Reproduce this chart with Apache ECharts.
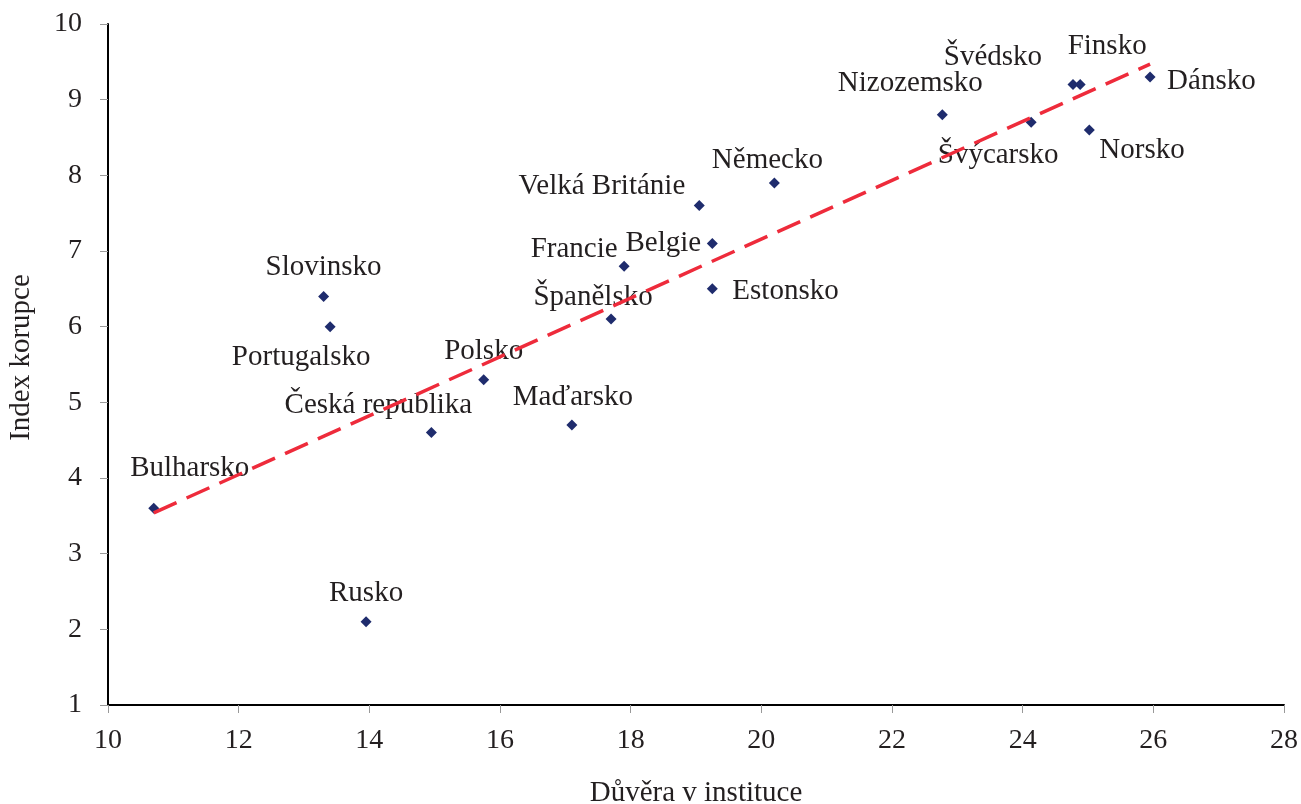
<!DOCTYPE html>
<html>
<head>
<meta charset="utf-8">
<title>Důvěra v instituce a index korupce</title>
<script src="https://cdn.jsdelivr.net/npm/echarts@6/dist/echarts.min.js"></script>
<style>
  html, body { margin: 0; padding: 0; background: #ffffff; }
  #chart { width: 1301px; height: 804px; }
</style>
</head>
<body>
<div id="chart"></div>
<script>
// Countries, trust in institutions (x) and corruption index (y)
const countries = ['Bulharsko', 'Slovinsko', 'Portugalsko', 'Česká republika', 'Polsko', 'Rusko',
  'Maďarsko', 'Španělsko', 'Francie', 'Belgie', 'Estonsko', 'Velká Británie', 'Německo',
  'Nizozemsko', 'Švýcarsko', 'Švédsko', 'Finsko', 'Dánsko', 'Norsko'];
const trustValues = [10.7, 13.3, 13.4, 14.95, 15.75, 13.95,
  17.1, 17.7, 17.9, 19.25, 19.25, 19.05, 20.2,
  22.77, 24.13, 24.77, 24.88, 25.95, 25.02];
const corruptionValues = [3.6, 6.4, 6.0, 4.6, 5.3, 2.1,
  4.7, 6.1, 6.8, 7.1, 6.5, 7.6, 7.9,
  8.8, 8.7, 9.2, 9.2, 9.3, 8.6];

// Linear trend line end points
const trendX = [10.7, 25.95];
const trendY = [3.54, 9.47];

// Axis ranges
const xTicks = { min: 10, max: 28, interval: 2 };
const yTicks = { min: 1, max: 10, interval: 1 };

// Label placement per country: [dx, dy] from the marker, and alignment
const labelPlace = {
  'Bulharsko': [36, -40, 'center'],
  'Slovinsko': [0, -29, 'center'],
  'Portugalsko': [-29, 31, 'center'],
  'Česká republika': [-53, -27, 'center'],
  'Polsko': [0, -28, 'center'],
  'Rusko': [0, -28, 'center'],
  'Maďarsko': [1, -28, 'center'],
  'Španělsko': [-18, -22, 'center'],
  'Francie': [-50, -17, 'center'],
  'Belgie': [-49, 0, 'center'],
  'Estonsko': [20, 3, 'left'],
  'Velká Británie': [-14, -19, 'right'],
  'Německo': [-7, -23, 'center'],
  'Nizozemsko': [-32, -31, 'center'],
  'Švýcarsko': [-33, 33, 'center'],
  'Švédsko': [-80, -27, 'center'],
  'Finsko': [27, -38, 'center'],
  'Dánsko': [17, 4, 'left'],
  'Norsko': [10, 20, 'left']
};

const FONT = '"Liberation Serif", "Times New Roman", serif';

const points = countries.map((name, i) => ({
  name: name,
  value: [trustValues[i], corruptionValues[i]]
}));

const trendData = trendX.map((x, i) => [x, trendY[i]]);

const chart = echarts.init(document.getElementById('chart'), null, { renderer: 'canvas' });

chart.setOption({
  backgroundColor: '#ffffff',
  animation: false,
  grid: { left: 108, right: 17, top: 24, bottom: 99, containLabel: false, outerBoundsMode: 'none' },
  xAxis: {
    type: 'value',
    min: xTicks.min, max: xTicks.max, interval: xTicks.interval,
    name: 'Důvěra v instituce',
    nameLocation: 'middle',
    nameGap: 74,
    nameTextStyle: { fontFamily: FONT, fontSize: 29, color: '#231f20' },
    axisLine: { show: true, lineStyle: { color: '#000000', width: 2 } },
    axisTick: { show: true, inside: false, length: 8, lineStyle: { color: '#999999', width: 1 } },
    axisLabel: { fontFamily: FONT, fontSize: 28, color: '#231f20', margin: 22 },
    splitLine: { show: false }
  },
  yAxis: {
    type: 'value',
    min: yTicks.min, max: yTicks.max, interval: yTicks.interval,
    name: 'Index korupce',
    nameLocation: 'middle',
    nameGap: 72,
    nameRotate: 90,
    nameTextStyle: { fontFamily: FONT, fontSize: 29, color: '#231f20', padding: [0, 0, 0, 14] },
    axisLine: { show: true, lineStyle: { color: '#000000', width: 2 } },
    axisTick: { show: true, inside: false, length: 8, lineStyle: { color: '#999999', width: 1 } },
    axisLabel: { fontFamily: FONT, fontSize: 28, color: '#231f20', margin: 26 },
    splitLine: { show: false }
  },
  series: [
    {
      type: 'scatter',
      data: points,
      symbol: 'diamond',
      symbolSize: 11,
      itemStyle: { color: '#1f2c6d', opacity: 1 },
      z: 2,
      label: {
        show: true,
        position: 'inside',
        formatter: '{b}',
        fontFamily: FONT,
        fontSize: 29,
        color: '#231f20',
        verticalAlign: 'middle'
      },
      labelLayout: function (params) {
        const p = labelPlace[countries[params.dataIndex]];
        const r = params.labelRect;
        const cx = r.x + r.width / 2;
        const cy = r.y + r.height / 2;
        let x = cx + p[0];
        if (p[2] === 'left') x = cx + p[0] + r.width / 2; // left edge at marker + dx
        if (p[2] === 'right') x = cx + p[0] - r.width / 2; // right edge at marker + dx
        return {
          x: x,
          y: cy + p[1],
          align: 'center',
          verticalAlign: 'middle',
          hideOverlap: false
        };
      }
    },
    {
      type: 'line',
      data: trendData,
      symbol: 'none',
      silent: true,
      z: 3,
      lineStyle: { color: '#ee2b3b', width: 3.5, type: [25, 11], cap: 'butt' }
    }
  ]
});
</script>
</body>
</html>
